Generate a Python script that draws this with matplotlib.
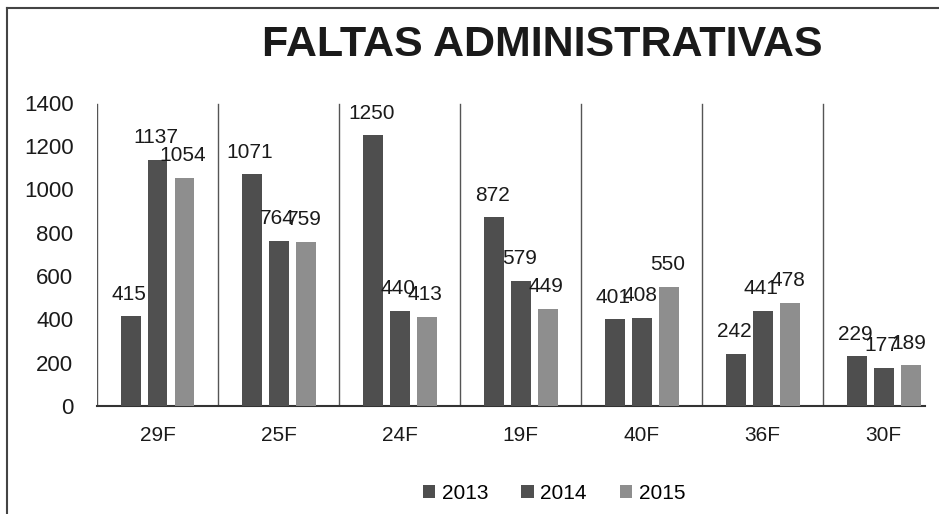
import numpy as np
import matplotlib
matplotlib.use('Agg')
import matplotlib.pyplot as plt
from matplotlib.lines import Line2D

plt.rcParams['font.family'] = ['Liberation Sans', 'DejaVu Sans']

categories = ['29F', '25F', '24F', '19F', '40F', '36F', '30F']
years = ['2013', '2014', '2015']
v2013 = [415, 1071, 1250, 872, 401, 242, 229]
v2014 = [1137, 764, 440, 579, 408, 441, 177]
v2015 = [1054, 759, 413, 449, 550, 478, 189]
yticks = [0, 200, 400, 600, 800, 1000, 1200, 1400]

colors = ['#4e4e4e', '#505050', '#8e8e8e']
series = [v2013, v2014, v2015]

fig = plt.figure(figsize=(9.39, 5.14), dpi=100)
ax = fig.add_axes([0.1033, 0.210, 0.882, 0.590])

x = np.arange(len(categories))
step = 0.223
width = 0.165
for i, (vals, year) in enumerate(zip(series, years)):
    pos = x + (i - 1) * step
    ax.bar(pos, vals, width=width, color=colors[i], label=year, zorder=3)
    for px, v in zip(pos, vals):
        ax.annotate(str(v), (px, v), xytext=(-1, 9), textcoords='offset points',
                    ha='center', va='bottom', fontsize=15, color='#1a1a1a', zorder=4)

# category separators
for i in range(len(categories)):
    ax.axvline(i - 0.5, ymin=0, ymax=0.995, color='#555555', linewidth=1.0, zorder=1)

ax.set_xlim(-0.5, 6.343)
ax.set_ylim(0, 1400)
ax.set_yticks(yticks)
ax.set_yticklabels([str(t) for t in yticks], fontsize=16, color='#1a1a1a')
ax.set_xticks(x)
ax.set_xticklabels(categories, fontsize=15, color='#1a1a1a')
ax.tick_params(axis='y', length=0, pad=17)
ax.tick_params(axis='x', length=0, pad=14)
for s in ['top', 'right', 'left']:
    ax.spines[s].set_visible(False)
ax.spines['bottom'].set_color('#333333')
ax.spines['bottom'].set_linewidth(1.5)

fig.text(0.578, 0.912, 'FALTAS ADMINISTRATIVAS', ha='center', va='center',
         fontsize=31, fontweight='bold', color='#1a1a1a')

fig.legend(loc='center', bbox_to_anchor=(0.59, 0.04), ncol=3, frameon=False,
           fontsize=15, handlelength=0.6, handleheight=0.6, handletextpad=0.3,
           columnspacing=1.6)

# scanned frame edges
fig.add_artist(Line2D([7 / 939, 7 / 939], [0, 1 - 8 / 514], color='#444444', linewidth=1.5))
fig.add_artist(Line2D([7 / 939, 1], [1 - 8 / 514, 1 - 8 / 514], color='#444444', linewidth=1.5))

fig.savefig('out.png', dpi=100)
